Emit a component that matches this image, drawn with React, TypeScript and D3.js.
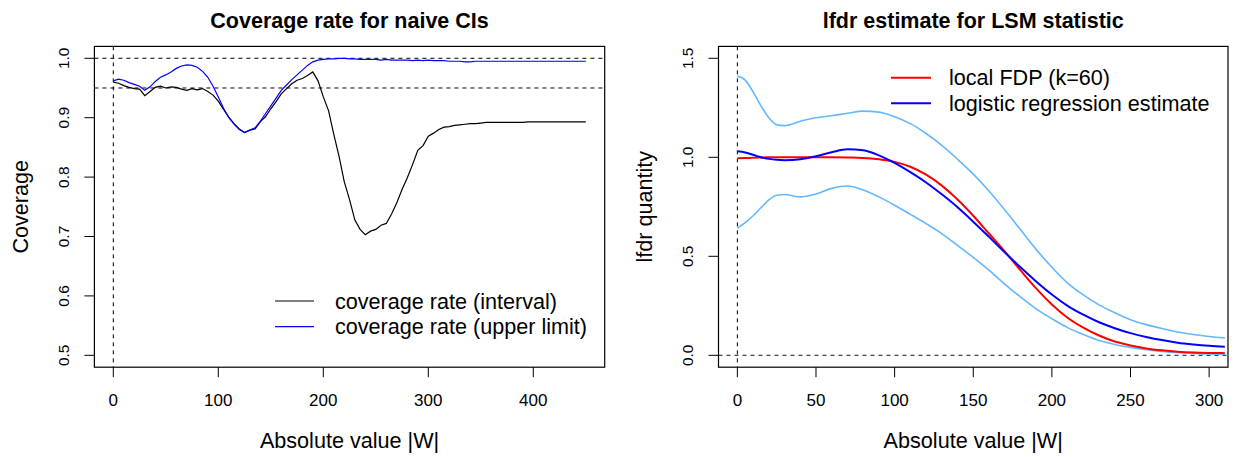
import React from "react";
import * as d3 from "d3";

// ---------- Data: left panel (coverage) ----------
const coverageStep = 5;
const coverageInterval = [
  0.960, 0.958, 0.954, 0.951, 0.949, 0.948, 0.937, 0.944, 0.951, 0.953,
  0.950, 0.952, 0.951, 0.948, 0.946, 0.949, 0.947, 0.949, 0.944, 0.938,
  0.928, 0.914, 0.901, 0.890, 0.881, 0.875, 0.879, 0.881, 0.893, 0.902,
  0.915, 0.927, 0.940, 0.949, 0.957, 0.963, 0.966, 0.971, 0.977, 0.962,
  0.935, 0.912, 0.872, 0.835, 0.792, 0.762, 0.728, 0.712, 0.703, 0.709,
  0.712, 0.719, 0.722, 0.738, 0.757, 0.779, 0.799, 0.821, 0.845, 0.853,
  0.869, 0.874, 0.880, 0.884, 0.885, 0.887, 0.888, 0.889, 0.890, 0.890,
  0.891, 0.892, 0.892, 0.892, 0.892, 0.892, 0.892, 0.892, 0.892, 0.893,
  0.893, 0.893, 0.893, 0.893, 0.893, 0.893, 0.893, 0.893, 0.893, 0.893,
  0.893,
];
const coverageUpper = [
  0.962, 0.965, 0.963, 0.959, 0.956, 0.953, 0.946, 0.952, 0.961, 0.968,
  0.972, 0.977, 0.983, 0.987, 0.989, 0.988, 0.985, 0.978, 0.968, 0.953,
  0.935, 0.916, 0.900, 0.889, 0.880, 0.875, 0.879, 0.883, 0.894, 0.907,
  0.920, 0.933, 0.946, 0.955, 0.964, 0.972, 0.980, 0.988, 0.994, 0.997,
  0.998, 0.999, 0.999, 1.000, 1.000, 0.999, 0.999, 0.998, 0.998, 0.998,
  0.998, 0.997, 0.998, 0.997, 0.997, 0.997, 0.997, 0.996, 0.997, 0.996,
  0.997, 0.996, 0.996, 0.996, 0.995, 0.995, 0.995, 0.994, 0.994, 0.995,
  0.995, 0.995, 0.995, 0.995, 0.995, 0.995, 0.995, 0.995, 0.995, 0.995,
  0.995, 0.995, 0.995, 0.995, 0.995, 0.995, 0.995, 0.995, 0.995, 0.995,
  0.995,
];
const coverageXTicks = [0, 100, 200, 300, 400];
const coverageYTicks = [0.5, 0.6, 0.7, 0.8, 0.9, 1.0];
const coverageRefLines = [1.0, 0.95];
const coverageLegend = ["coverage rate (interval)", "coverage rate (upper limit)"];

// ---------- Data: right panel (lfdr) ----------
const lfdrX = [0, 5, 10, 15, 20, 25, 30, 40, 50, 60, 70, 80, 90, 100, 110, 120, 130, 140, 150, 160, 170, 180, 190, 200, 210, 220, 230, 240, 250, 260, 270, 280, 290, 300, 310];
const localFDP = [0.995, 0.996, 0.998, 0.999, 1.0, 1.0, 1.0, 1.0, 1.0, 1.0, 0.999, 0.997, 0.99, 0.977, 0.952, 0.912, 0.857, 0.787, 0.705, 0.615, 0.525, 0.43, 0.338, 0.257, 0.19, 0.14, 0.1, 0.07, 0.05, 0.035, 0.025, 0.018, 0.014, 0.012, 0.011];
const logisticEst = [1.03, 1.024, 1.013, 1.0, 0.992, 0.987, 0.985, 0.99, 1.005, 1.025, 1.04, 1.035, 1.01, 0.972, 0.925, 0.873, 0.813, 0.748, 0.675, 0.598, 0.52, 0.445, 0.373, 0.307, 0.25, 0.205, 0.167, 0.137, 0.112, 0.093, 0.077, 0.064, 0.055, 0.048, 0.043];
const upperBand = [1.41, 1.39, 1.33, 1.26, 1.2, 1.165, 1.16, 1.182, 1.2, 1.21, 1.222, 1.233, 1.228, 1.205, 1.17, 1.12, 1.06, 0.99, 0.915, 0.83, 0.735, 0.635, 0.535, 0.445, 0.365, 0.305, 0.255, 0.215, 0.18, 0.155, 0.135, 0.118, 0.105, 0.095, 0.088];
const lowerBand = [0.642, 0.67, 0.705, 0.745, 0.785, 0.808, 0.812, 0.80, 0.815, 0.843, 0.855, 0.835, 0.80, 0.758, 0.712, 0.665, 0.615, 0.555, 0.495, 0.43, 0.36, 0.295, 0.235, 0.185, 0.14, 0.105, 0.075, 0.055, 0.04, 0.028, 0.02, 0.014, 0.01, 0.007, 0.006];
const lfdrXTicks = [0, 50, 100, 150, 200, 250, 300];
const lfdrYTicks = [0.0, 0.5, 1.0, 1.5];
const lfdrLegend = ["local FDP (k=60)", "logistic regression estimate"];

const FONT = "'Liberation Sans', Arial, Helvetica, sans-serif";
const TOP = 46.4;
const BOTTOM = 367.2;
const LABEL_SIZE = 21.6;

function fmt1(v: number) {
  return v.toFixed(1);
}

function Frame(props: {
  left: number;
  right: number;
  title: string;
  ylabel: string;
  xTicks: number[];
  yTicks: number[];
  x: d3.ScaleLinear<number, number>;
  y: d3.ScaleLinear<number, number>;
  children?: React.ReactNode;
  clipId: string;
}) {
  const { left, right, title, ylabel, xTicks, yTicks, x, y, clipId } = props;
  const cx = (left + right) / 2;
  const cy = (TOP + BOTTOM) / 2;
  return (
    <g>
      <defs>
        <clipPath id={clipId}>
          <rect x={left} y={TOP} width={right - left} height={BOTTOM - TOP} />
        </clipPath>
      </defs>
      <g clipPath={`url(#${clipId})`}>{props.children}</g>
      <rect x={left} y={TOP} width={right - left} height={BOTTOM - TOP} fill="none" stroke="#000" strokeWidth={1.2} />
      {xTicks.map((t) => (
        <g key={"xt" + t}>
          <line x1={x(t)} x2={x(t)} y1={BOTTOM} y2={BOTTOM + 10} stroke="#000" strokeWidth={1} />
          <text x={x(t)} y={BOTTOM + 39} textAnchor="middle" fontSize={17} fontFamily={FONT}>
            {t}
          </text>
        </g>
      ))}
      {yTicks.map((t) => (
        <g key={"yt" + t}>
          <line x1={left} x2={left - 10} y1={y(t)} y2={y(t)} stroke="#000" strokeWidth={1} />
          <text
            transform={`translate(${left - 25.5},${y(t)}) rotate(-90)`}
            textAnchor="middle"
            fontSize={15.5}
            fontFamily={FONT}
          >
            {fmt1(t)}
          </text>
        </g>
      ))}
      <text x={cx} y={28} textAnchor="middle" fontSize={21.5} fontWeight="bold" fontFamily={FONT}>
        {title}
      </text>
      <text x={cx} y={448} textAnchor="middle" fontSize={LABEL_SIZE} fontFamily={FONT}>
        Absolute value |W|
      </text>
      <text transform={`translate(${left - 66.5},${cy}) rotate(-90)`} textAnchor="middle" fontSize={LABEL_SIZE} fontFamily={FONT}>
        {ylabel}
      </text>
    </g>
  );
}

export default function App() {
  // Left panel scales
  const lLeft = 94.4;
  const lRight = 604.7;
  const xL = d3.scaleLinear().domain([-18, 468]).range([lLeft, lRight]);
  const yL = d3.scaleLinear().domain([0.48, 1.02]).range([BOTTOM, TOP]);
  const xs = coverageInterval.map((_, i) => i * coverageStep);
  const lineL = d3
    .line<number>()
    .x((_, i) => xL(xs[i]))
    .y((d) => yL(d));

  // Right panel scales
  const rLeft = 718.5;
  const rRight = 1228;
  const xR = d3.scaleLinear().domain([-12, 312]).range([rLeft, rRight]);
  const yR = d3.scaleLinear().domain([-0.06, 1.56]).range([BOTTOM, TOP]);
  const lineR = d3
    .line<number>()
    .x((_, i) => xR(lfdrX[i]))
    .y((d) => yR(d))
    .curve(d3.curveMonotoneX);

  const lLegendX1 = 275;
  const lLegendX2 = 314;
  const lLegendY = [301, 326.7];
  const rLegendX1 = 891;
  const rLegendX2 = 931;
  const rLegendY = [77.7, 103.3];

  return (
    <svg width={1238} height={457} style={{ position: "absolute", left: 0, top: 0, background: "#fff" }}>
      <rect x={0} y={0} width={1238} height={457} fill="#fff" />
      <Frame
        left={lLeft}
        right={lRight}
        title="Coverage rate for naive CIs"
        ylabel="Coverage"
        xTicks={coverageXTicks}
        yTicks={coverageYTicks}
        x={xL}
        y={yL}
        clipId="clipL"
      >
        {coverageRefLines.map((v) => (
          <line key={v} x1={lLeft} x2={lRight} y1={yL(v)} y2={yL(v)} stroke="#000" strokeWidth={1} strokeDasharray="4,4" />
        ))}
        <line x1={xL(0)} x2={xL(0)} y1={TOP} y2={BOTTOM} stroke="#000" strokeWidth={1} strokeDasharray="4,4" />
        <path d={lineL(coverageInterval) || ""} fill="none" stroke="#000" strokeWidth={1.2} />
        <path d={lineL(coverageUpper) || ""} fill="none" stroke="#0000ff" strokeWidth={1.2} />
      </Frame>
      {coverageLegend.map((label, i) => (
        <g key={label}>
          <line x1={lLegendX1} x2={lLegendX2} y1={lLegendY[i]} y2={lLegendY[i]} stroke={i === 0 ? "#000" : "#0000ff"} strokeWidth={1.2} />
          <text x={335} y={lLegendY[i] + 7.5} fontSize={LABEL_SIZE} fontFamily={FONT}>
            {label}
          </text>
        </g>
      ))}

      <Frame
        left={rLeft}
        right={rRight}
        title="lfdr estimate for LSM statistic"
        ylabel="lfdr quantity"
        xTicks={lfdrXTicks}
        yTicks={lfdrYTicks}
        x={xR}
        y={yR}
        clipId="clipR"
      >
        <line x1={rLeft} x2={rRight} y1={yR(0)} y2={yR(0)} stroke="#444" strokeWidth={1.3} strokeDasharray="4,4" />
        <line x1={xR(0)} x2={xR(0)} y1={TOP} y2={BOTTOM} stroke="#000" strokeWidth={1} strokeDasharray="4,4" />
        <path d={lineR(upperBand) || ""} fill="none" stroke="#63B8FF" strokeWidth={1.6} />
        <path d={lineR(lowerBand) || ""} fill="none" stroke="#63B8FF" strokeWidth={1.6} />
        <path d={lineR(localFDP) || ""} fill="none" stroke="#ff0000" strokeWidth={2} />
        <path d={lineR(logisticEst) || ""} fill="none" stroke="#0000ff" strokeWidth={2} />
      </Frame>
      {lfdrLegend.map((label, i) => (
        <g key={label}>
          <line x1={rLegendX1} x2={rLegendX2} y1={rLegendY[i]} y2={rLegendY[i]} stroke={i === 0 ? "#ff0000" : "#0000ff"} strokeWidth={2} />
          <text x={949} y={rLegendY[i] + 7.5} fontSize={LABEL_SIZE} fontFamily={FONT}>
            {label}
          </text>
        </g>
      ))}
    </svg>
  );
}
